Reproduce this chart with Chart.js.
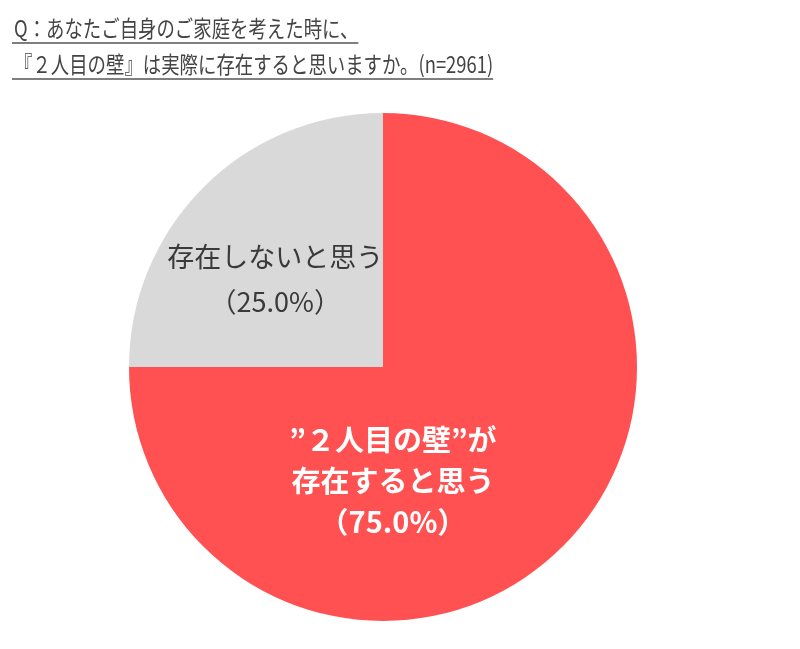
<!DOCTYPE html>
<html>
<head>
<meta charset="utf-8">
<script src="https://cdn.jsdelivr.net/npm/chart.js@4/dist/chart.umd.min.js"></script>
<style>
  body { margin: 0; background: #fff; }
</style>
</head>
<body>
<canvas id="myChart" width="800" height="649"></canvas>
<script>
// data
var titleLines = ['Q：あなたご自身のご家庭を考えた時に、', '『２人目の壁』は実際に存在すると思いますか。(n=2961)'];
var categories = [['”２人目の壁”が', '存在すると思う'], ['存在しないと思う']];
var values = [75.0, 25.0];
var colors = ['#FF5151', '#D9D9D9'];

const fontFamily = '"Noto Sans CJK JP", "Noto Sans", sans-serif';

// title with underline, drawn slightly condensed like the original
const titlePlugin = {
    id: 'underlinedTitle',
    afterDraw(chart) {
        const ctx = chart.ctx;
        const sx = 0.8;
        const ys = [28, 64];
        const uy = [43, 79];
        ctx.save();
        ctx.font = '23px ' + fontFamily;
        ctx.fillStyle = '#444';
        ctx.strokeStyle = '#555';
        ctx.lineWidth = 1.5;
        ctx.textBaseline = 'middle';
        for (let i = 0; i < titleLines.length; i++) {
            const w = ctx.measureText(titleLines[i]).width * sx;
            ctx.save();
            ctx.translate(14, ys[i]);
            ctx.scale(sx, 1);
            ctx.fillText(titleLines[i], 0, 0);
            ctx.restore();
            ctx.beginPath();
            ctx.moveTo(12, uy[i]);
            ctx.lineTo(14 + w, uy[i]);
            ctx.stroke();
        }
        ctx.restore();
    }
};

// slice labels
const sliceLabels = {
    id: 'sliceLabels',
    afterDatasetsDraw(chart, args, opts) {
        const ctx = chart.ctx;
        const meta = chart.getDatasetMeta(0);
        meta.data.forEach((arc, i) => {
            const o = opts.slices[i];
            const a = o.angle * Math.PI / 180;
            const cx = arc.x + Math.cos(a) * arc.outerRadius * o.r;
            const cy = arc.y + Math.sin(a) * arc.outerRadius * o.r;
            const lines = categories[i].concat(['（' + values[i].toFixed(1) + '%）']);
            ctx.save();
            ctx.font = (o.bold ? 'bold ' : '') + o.size + 'px ' + fontFamily;
            ctx.fillStyle = o.color;
            ctx.textAlign = 'center';
            ctx.textBaseline = 'middle';
            const top = cy - (lines.length - 1) * o.lineHeight / 2;
            lines.forEach((t, j) => ctx.fillText(t, cx, top + j * o.lineHeight));
            ctx.restore();
        });
    }
};

const ctx = document.getElementById('myChart').getContext('2d');

const myChart = new Chart(ctx, {
    type: 'pie',
    data: {
        labels: categories.map(c => c.join('')),
        datasets: [{
            data: values,
            backgroundColor: colors,
            borderWidth: 0
        }]
    },
    options: {
        responsive: false,
        animation: false,
        layout: {
            padding: { top: 113, bottom: 28, left: 129, right: 163 }
        },
        plugins: {
            legend: { display: false },
            tooltip: { enabled: false },
            sliceLabels: {
                slices: [
                    { angle: 85, r: 0.45, size: 29, bold: true, color: '#fff', lineHeight: 41 },
                    { angle: 219, r: 0.546, size: 27, bold: false, color: '#3a3a3a', lineHeight: 45 }
                ]
            }
        }
    },
    plugins: [titlePlugin, sliceLabels]
});
</script>
</body>
</html>
